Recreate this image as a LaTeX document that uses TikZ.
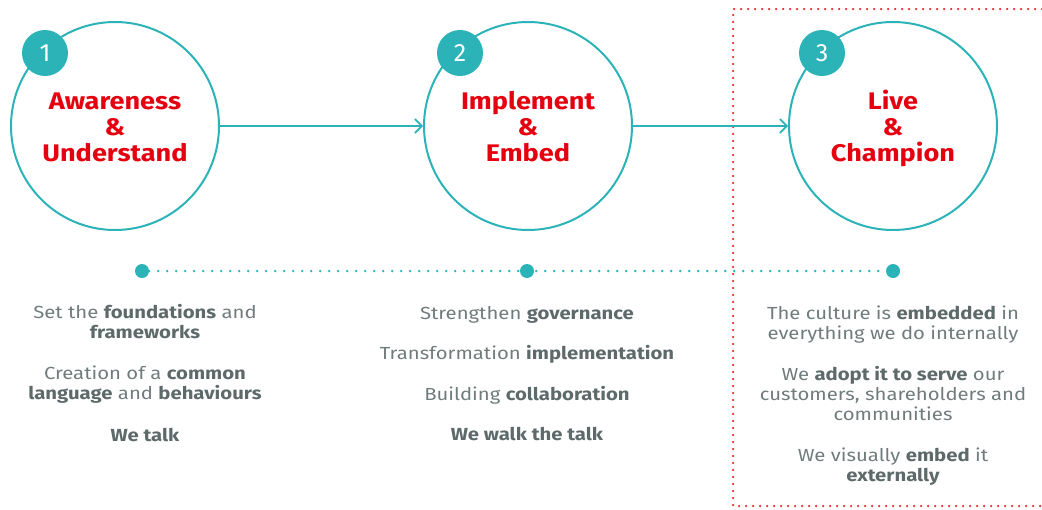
\documentclass[tikz,border=0pt]{standalone}
\usepackage{fontspec}
\setmainfont{Fira Sans}
\newfontfamily\titlefont[FakeStretch=1.13]{Fira Sans}
\newfontfamily\bodyfont[FakeStretch=1.16]{Fira Sans}
\usetikzlibrary{arrows.meta}
\definecolor{teal1}{HTML}{2BB3B8}
\definecolor{red1}{HTML}{E5000F}
\definecolor{gray1}{HTML}{707C7C}
\definecolor{gray2}{HTML}{5E6A6A}
\definecolor{reddot}{HTML}{E62A2A}
\tikzset{
  bigcirc/.style={circle,draw=teal1,line width=2pt,minimum size=208pt,inner sep=0pt},
  badge/.style={circle,fill=teal1,minimum size=46pt,inner sep=0pt,text=white,font=\fontsize{25}{25}\selectfont},
  title/.style={anchor=base,text=red1,font=\titlefont\fontsize{24}{24}\selectfont\bfseries,inner sep=0pt},
  body/.style={anchor=base,text=gray1,font=\bodyfont\fontsize{17.5}{20}\selectfont,inner sep=0pt},
  flow/.style={draw=teal1,line width=1.6pt,-{Straight Barb[length=7pt,width=14pt,line width=1.6pt]}},
  dot/.style={circle,fill=teal1,minimum size=14pt,inner sep=0pt},
  tline/.style={draw=teal1,line width=2.6pt,line cap=round,dash pattern=on 0pt off 9pt},
  rline/.style={draw=reddot,line width=2.5pt,line cap=round,dash pattern=on 0pt off 7pt}
}
\newcommand{\bo}[1]{{\bfseries\color{gray2}#1}}
\begin{document}
\begin{tikzpicture}[x=1pt,y=-1pt]
\useasboundingbox (0,0) rectangle (1042,509);
% red dotted frame
\draw[rline] (1042,9) -- (733,9) -- (733,506) -- (1042,506);
% circles
\node[bigcirc] (c1) at (115,126) {};
\node[bigcirc] (c2) at (528,126) {};
\node[bigcirc] (c3) at (893,126) {};
\node[badge] (b1) at (45,53) {1};
\node[badge] (b2) at (460,53) {2};
\node[badge] (b3) at (822,53) {3};
% titles
\node[title] (t1a) at (115,109) {Awareness};
\node[title] (t1b) at (115,135) {\&};
\node[title] (t1c) at (115,161) {Understand};
\node[title] (t2a) at (528,109) {Implement};
\node[title] (t2b) at (528,135) {\&};
\node[title] (t2c) at (528,161) {Embed};
\node[title] (t3a) at (893,109) {Live};
\node[title] (t3b) at (893,135) {\&};
\node[title] (t3c) at (893,161) {Champion};
% arrows
\draw[flow] (c1.east) -- (c2.west);
\draw[flow] (c2.east) -- (c3.west);
% dotted timeline
\node[dot] (d1) at (142,271) {};
\node[dot] (d2) at (527,271) {};
\node[dot] (d3) at (893,271) {};
\draw[tline] (d1.east) -- (d3.west);
% column 1
\node[body] (l11) at (145,318) {Set the \bo{foundations} and};
\node[body] (l12) at (145,338) {\bo{frameworks}};
\node[body] (l13) at (145,379) {Creation of a \bo{common}};
\node[body] (l14) at (145,399) {\bo{language} and \bo{behaviours}};
\node[body] (l15) at (145,441) {\bo{We talk}};
% column 2
\node[body] (l21) at (527,319) {Strengthen \bo{governance}};
\node[body] (l22) at (527,359) {Transformation \bo{implementation}};
\node[body] (l23) at (527,400) {Building \bo{collaboration}};
\node[body] (l24) at (527,440) {\bo{We walk the talk}};
% column 3
\node[body] (l31) at (893,319) {The culture is \bo{embedded} in};
\node[body] (l32) at (893,339) {everything we do internally};
\node[body] (l33) at (893,380) {We \bo{adopt it to serve} our};
\node[body] (l34) at (893,400) {customers, shareholders and};
\node[body] (l35) at (893,420) {communities};
\node[body] (l36) at (893,461) {We visually \bo{embed} it};
\node[body] (l37) at (893,481) {\bo{externally}};
\end{tikzpicture}
\end{document}
